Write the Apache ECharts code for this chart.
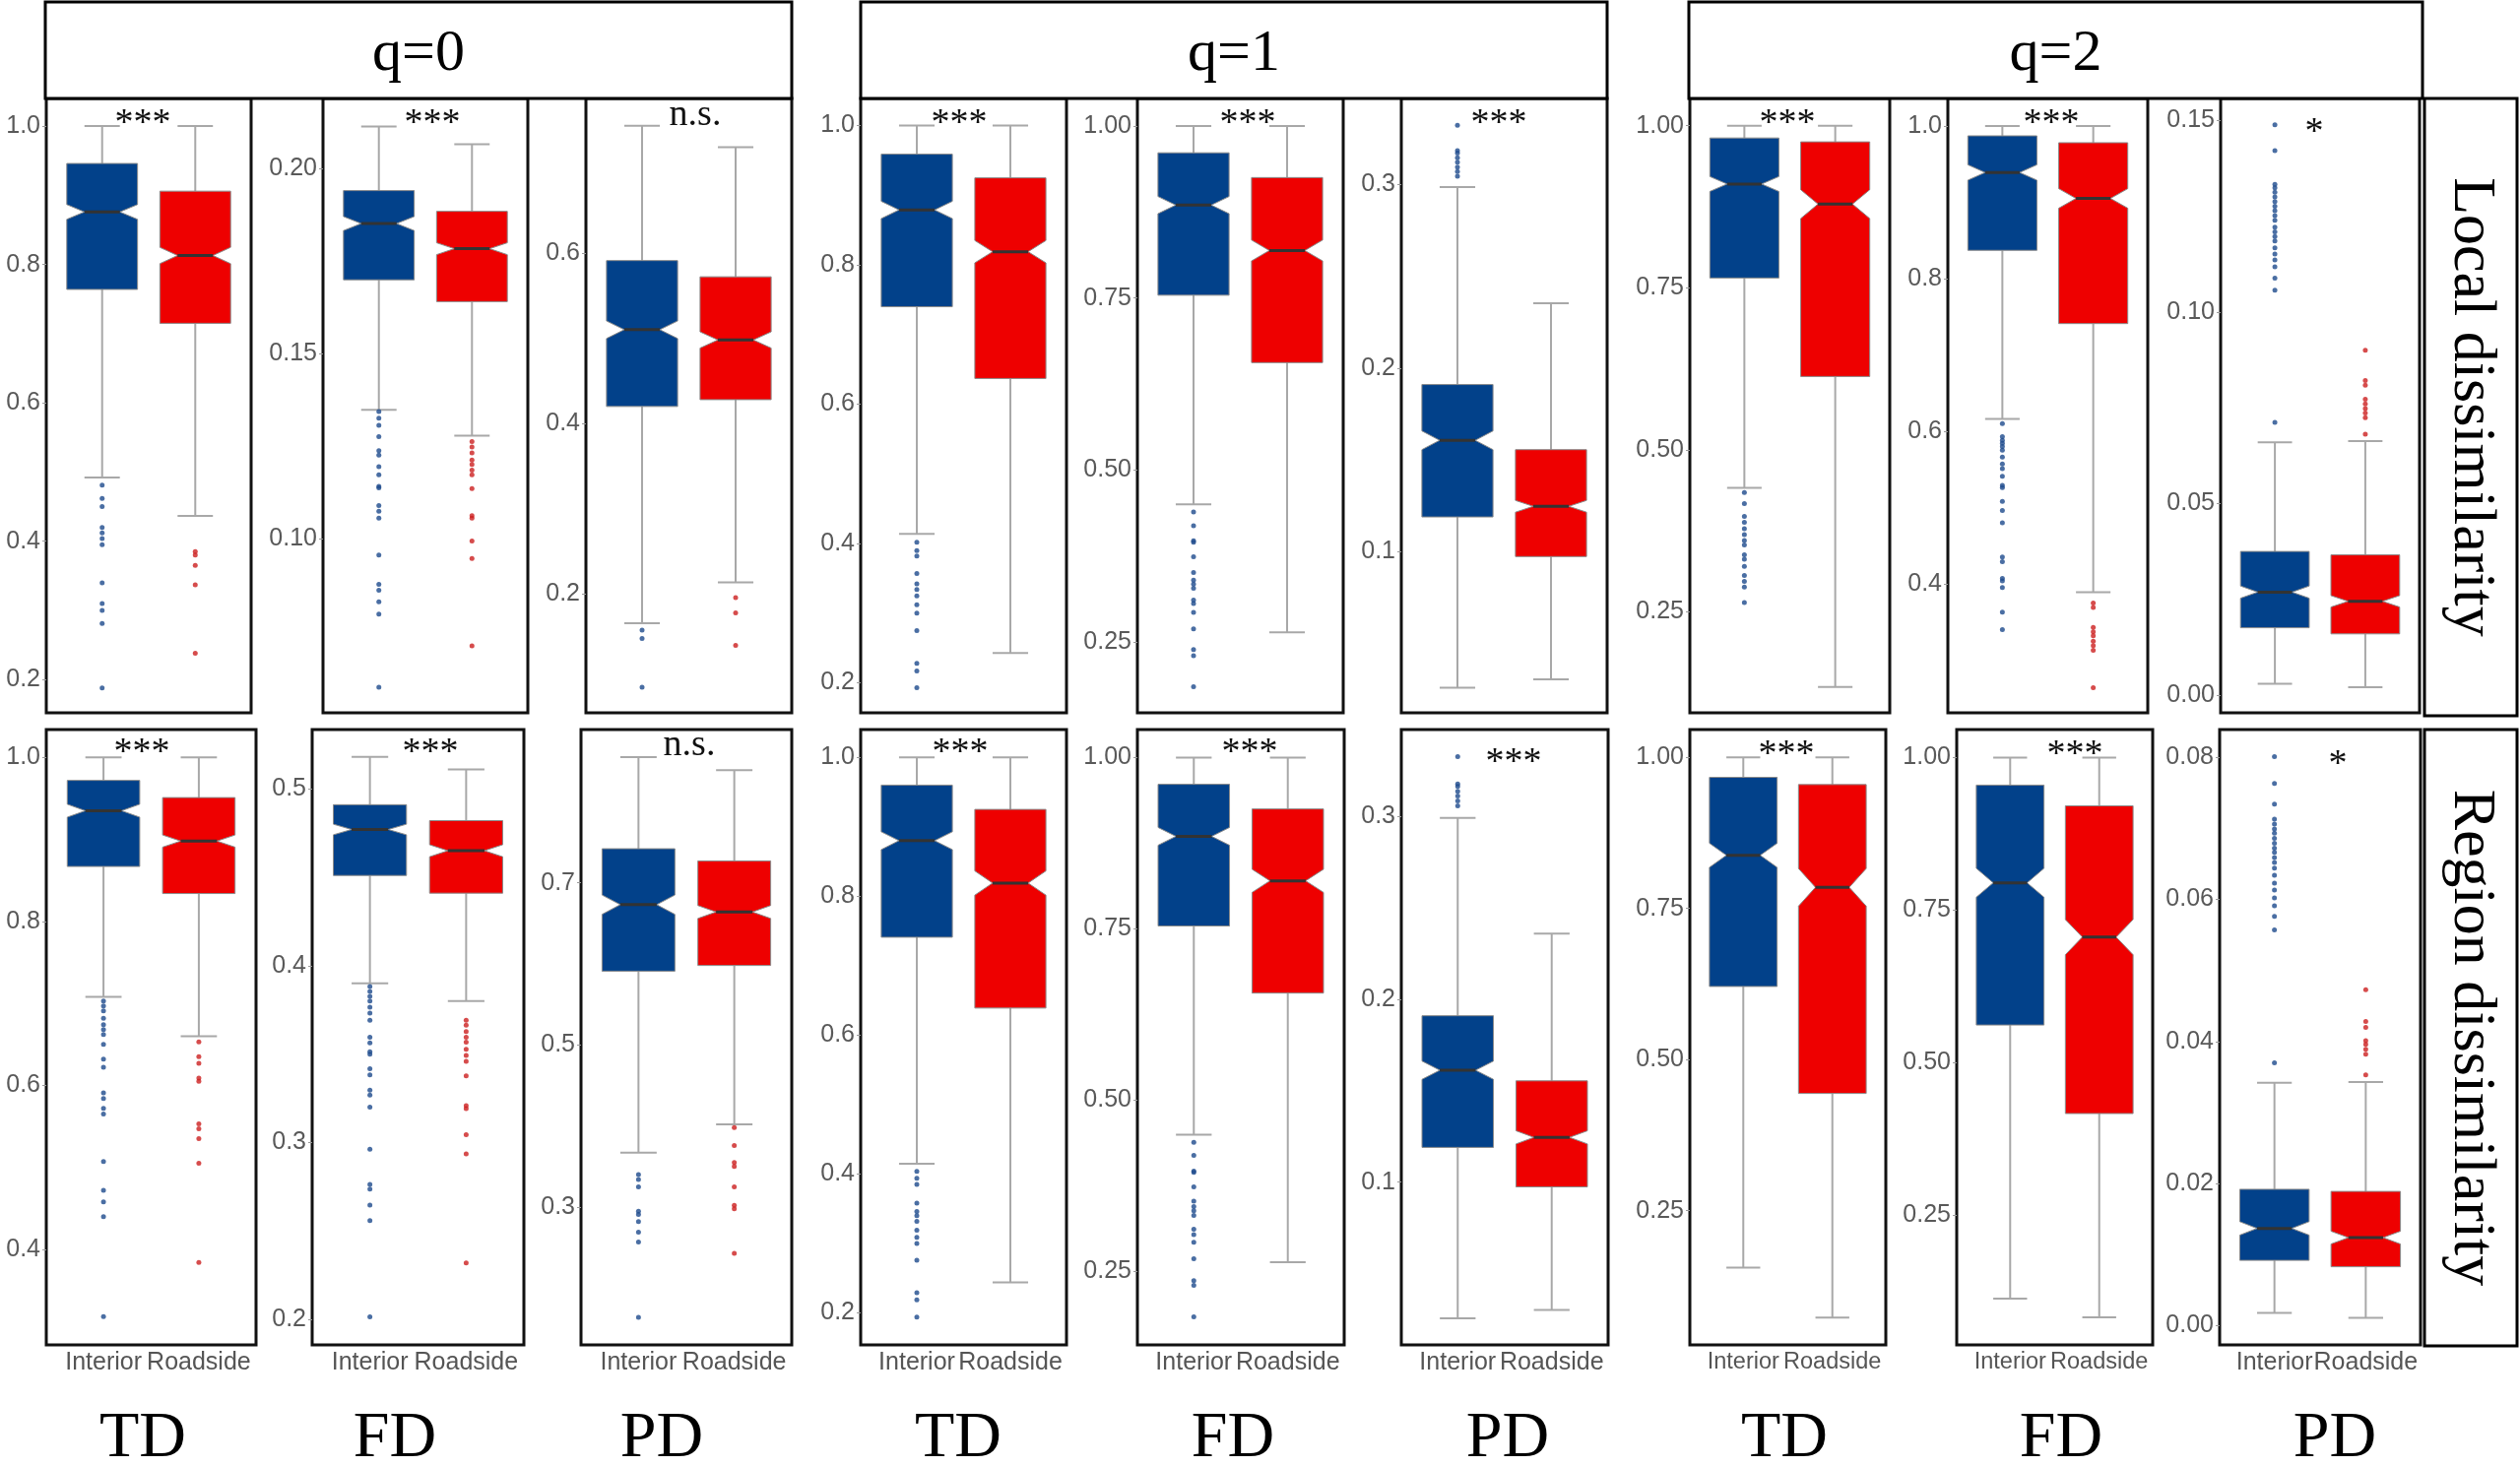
<!DOCTYPE html>
<html>
<head>
<meta charset="utf-8">
<script src="https://cdn.jsdelivr.net/npm/echarts@6.0.0/dist/echarts.min.js"></script>
<style>html,body{margin:0;padding:0;background:#fff}#chart{width:2559px;height:1489px}</style>
</head>
<body>
<div id="chart"></div>
<script>
// panels are ordered row by row: Local (TD,FD,PD for q=0,1,2) then Region
const categories = ['Interior', 'Roadside'];
const qLabels = ['q=0', 'q=1', 'q=2'];
const indexLabels = ['TD', 'FD', 'PD'];
const rowLabels = ['Local dissimilarity', 'Region dissimilarity'];
const sigLabels = ['***', '***', 'n.s.', '***', '***', '***', '***', '***', '*',
                   '***', '***', 'n.s.', '***', '***', '***', '***', '***', '*'];

// [lower whisker, Q1, median, Q3, upper whisker, notch half-width]
const interiorStats = [
  [0.492, 0.764, 0.876, 0.946, 1.0, 0.0107],
  [0.1349, 0.1700, 0.1852, 0.1941, 0.2114, 0.0019],
  [0.166, 0.420, 0.510, 0.591, 0.749, 0.0103],
  [0.414, 0.740, 0.879, 0.959, 1.0, 0.0124],
  [0.450, 0.754, 0.885, 0.961, 1.0, 0.0125],
  [0.0257, 0.1188, 0.1606, 0.1910, 0.2987, 0.0051],
  [0.441, 0.765, 0.910, 0.981, 1.0, 0.0115],
  [0.616, 0.837, 0.939, 0.987, 1.0, 0.0101],
  [0.0030, 0.0176, 0.0269, 0.0375, 0.0660, 0.0016],
  [0.708, 0.867, 0.935, 0.972, 1.0, 0.0079],
  [0.390, 0.451, 0.477, 0.491, 0.518, 0.0030],
  [0.367, 0.591, 0.673, 0.742, 0.855, 0.0119],
  [0.415, 0.741, 0.880, 0.960, 1.0, 0.0128],
  [0.449, 0.754, 0.885, 0.961, 1.0, 0.0130],
  [0.0256, 0.1190, 0.1612, 0.1910, 0.2992, 0.0050],
  [0.156, 0.621, 0.838, 0.967, 1.0, 0.0200],
  [0.114, 0.562, 0.795, 0.955, 1.0, 0.0237],
  [0.0018, 0.0092, 0.0137, 0.0192, 0.0342, 0.00095]
];
const roadsideStats = [
  [0.4365, 0.715, 0.813, 0.906, 1.0, 0.0118],
  [0.1279, 0.1641, 0.1784, 0.1885, 0.2066, 0.0016],
  [0.214, 0.428, 0.498, 0.572, 0.724, 0.0095],
  [0.243, 0.637, 0.819, 0.925, 1.0, 0.0160],
  [0.264, 0.656, 0.819, 0.925, 1.0, 0.0152],
  [0.0303, 0.0972, 0.1246, 0.1555, 0.2354, 0.0032],
  [0.134, 0.613, 0.879, 0.975, 1.0, 0.0222],
  [0.389, 0.741, 0.905, 0.978, 1.0, 0.0128],
  [0.0021, 0.0160, 0.0245, 0.0366, 0.0663, 0.0015],
  [0.660, 0.834, 0.898, 0.951, 1.0, 0.0074],
  [0.380, 0.441, 0.465, 0.482, 0.511, 0.0034],
  [0.402, 0.598, 0.664, 0.727, 0.839, 0.0080],
  [0.244, 0.639, 0.819, 0.925, 1.0, 0.0174],
  [0.263, 0.656, 0.820, 0.925, 1.0, 0.0169],
  [0.0301, 0.0974, 0.1245, 0.1554, 0.2359, 0.0036],
  [0.073, 0.444, 0.785, 0.955, 1.0, 0.0311],
  [0.083, 0.417, 0.706, 0.921, 1.0, 0.0288],
  [0.0011, 0.0083, 0.0124, 0.0189, 0.0343, 0.0009]
];

const interiorOutliers = [
  [0.481, 0.462, 0.450, 0.420, 0.412, 0.404, 0.395, 0.340, 0.310, 0.300, 0.281, 0.188],
  [0.1344, 0.1326, 0.1307, 0.1276, 0.1238, 0.1226, 0.1195, 0.1173, 0.1142, 0.1138, 0.1090, 0.1075, 0.1056, 0.0956, 0.0877, 0.0861, 0.0830, 0.0797, 0.0599],
  [0.158, 0.148, 0.091],
  [0.402, 0.390, 0.382, 0.357, 0.342, 0.334, 0.325, 0.312, 0.300, 0.275, 0.228, 0.217, 0.193],
  [0.439, 0.419, 0.397, 0.395, 0.374, 0.351, 0.340, 0.334, 0.328, 0.311, 0.306, 0.293, 0.269, 0.239, 0.230, 0.185],
  [0.3324, 0.3185, 0.3172, 0.3147, 0.3122, 0.3096, 0.3071, 0.3046],
  [0.434, 0.417, 0.397, 0.388, 0.378, 0.369, 0.360, 0.353, 0.338, 0.331, 0.320, 0.306, 0.297, 0.288, 0.264],
  [0.610, 0.593, 0.588, 0.584, 0.580, 0.575, 0.566, 0.557, 0.551, 0.541, 0.529, 0.526, 0.508, 0.496, 0.480, 0.435, 0.429, 0.407, 0.404, 0.395, 0.363, 0.340],
  [0.1488, 0.1421, 0.1333, 0.1324, 0.1312, 0.1300, 0.1288, 0.1276, 0.1264, 0.1251, 0.1239, 0.1221, 0.1209, 0.1197, 0.1185, 0.1167, 0.1151, 0.1136, 0.1118, 0.1088, 0.1057, 0.0712],
  [0.703, 0.697, 0.691, 0.682, 0.674, 0.668, 0.662, 0.650, 0.632, 0.622, 0.591, 0.584, 0.572, 0.565, 0.507, 0.472, 0.458, 0.440, 0.318],
  [0.3882, 0.3855, 0.3827, 0.3800, 0.3765, 0.3732, 0.3691, 0.3596, 0.3563, 0.3514, 0.3500, 0.3418, 0.3383, 0.3296, 0.3268, 0.3200, 0.2963, 0.2764, 0.2737, 0.2647, 0.2559, 0.2014],
  [0.340, 0.334, 0.325, 0.295, 0.291, 0.282, 0.269, 0.257, 0.164],
  [0.404, 0.394, 0.385, 0.358, 0.346, 0.340, 0.332, 0.319, 0.309, 0.300, 0.276, 0.229, 0.219, 0.194],
  [0.438, 0.419, 0.396, 0.394, 0.373, 0.352, 0.344, 0.338, 0.331, 0.311, 0.303, 0.292, 0.268, 0.236, 0.229, 0.183],
  [0.3327, 0.3177, 0.3164, 0.3137, 0.3111, 0.3084, 0.3058],
  [],
  [],
  [0.0801, 0.0763, 0.0734, 0.0713, 0.0706, 0.0699, 0.0693, 0.0686, 0.0679, 0.0672, 0.0666, 0.0659, 0.0652, 0.0644, 0.0634, 0.0623, 0.0613, 0.0602, 0.0591, 0.0576, 0.0557, 0.0370]
];
const roadsideOutliers = [
  [0.385, 0.380, 0.365, 0.337, 0.238],
  [0.1263, 0.1248, 0.1232, 0.1213, 0.1201, 0.1186, 0.1173, 0.1136, 0.1063, 0.1056, 0.0994, 0.0947, 0.0711],
  [0.196, 0.178, 0.140],
  [], [], [], [],
  [0.375, 0.369, 0.343, 0.337, 0.332, 0.325, 0.319, 0.313, 0.264],
  [0.0900, 0.0821, 0.0809, 0.0772, 0.0760, 0.0748, 0.0736, 0.0724, 0.0681],
  [0.653, 0.635, 0.627, 0.609, 0.605, 0.553, 0.547, 0.535, 0.505, 0.384],
  [0.3691, 0.3664, 0.3628, 0.3596, 0.3568, 0.3527, 0.3492, 0.3459, 0.3377, 0.3208, 0.3192, 0.3045, 0.2936, 0.2319],
  [0.398, 0.376, 0.355, 0.350, 0.325, 0.302, 0.298, 0.243],
  [], [], [], [], [],
  [0.0473, 0.0428, 0.0420, 0.0401, 0.0396, 0.0389, 0.0382, 0.0353]
];

const yRanges = [
  [0.152, 1.040], [0.053, 0.219], [0.061, 0.781], [0.157, 1.039], [0.147, 1.040], [0.012, 0.347],
  [0.094, 1.042], [0.231, 1.036], [-0.0046, 0.1557],
  [0.2835, 1.034], [0.1856, 0.5335], [0.130, 0.889], [0.154, 1.040], [0.142, 1.041], [0.011, 0.3475],
  [0.028, 1.046], [0.038, 1.046], [-0.0027, 0.0839]
];
const yTicks = [
  [0.2, 0.4, 0.6, 0.8, 1.0], [0.10, 0.15, 0.20], [0.2, 0.4, 0.6], [0.2, 0.4, 0.6, 0.8, 1.0],
  [0.25, 0.50, 0.75, 1.00], [0.1, 0.2, 0.3], [0.25, 0.50, 0.75, 1.00], [0.4, 0.6, 0.8, 1.0],
  [0.00, 0.05, 0.10, 0.15],
  [0.4, 0.6, 0.8, 1.0], [0.2, 0.3, 0.4, 0.5], [0.3, 0.5, 0.7], [0.2, 0.4, 0.6, 0.8, 1.0],
  [0.25, 0.50, 0.75, 1.00], [0.1, 0.2, 0.3], [0.25, 0.50, 0.75, 1.00], [0.25, 0.50, 0.75, 1.00],
  [0.00, 0.02, 0.04, 0.06, 0.08]
];
const yDecimals = [1, 2, 1, 1, 2, 1, 2, 1, 2, 1, 1, 1, 1, 2, 1, 2, 2, 2];

// layout (pixels)
const panelCols = [
  [[47, 255], [328, 536], [595, 804], [874, 1083], [1155, 1364], [1423, 1632], [1716, 1919], [1978, 2181], [2255, 2457]],
  [[47, 260], [317, 532], [590, 804], [874, 1083], [1155, 1365], [1423, 1633], [1716, 1915], [1987, 2186], [2254, 2458]]
];
const rowY = [[100, 724], [741, 1366]];
const sigX = [[145, 439, 706, 974, 1267, 1522, 1815, 2083, 2350], [144, 437, 700, 975, 1269, 1537, 1814, 2107, 2374]];
const sigY = [[126, 126, 117, 126, 126, 126, 126, 126, 135], [765, 765, 757, 765, 765, 775, 767, 767, 777]];
const headerX = [[46, 804], [874, 1632], [1715, 2460]];
const bottomLabelX = [145, 401, 672, 973, 1252, 1531, 1812, 2093, 2371];

const boxColors = ['#02418a', '#ee0000'];
const pointColors = ['#1d4a8c', '#cc1f1f'];

const chart = echarts.init(document.getElementById('chart'));

function renderBox(params, api) {
  const x = api.value(0);
  const lo = api.value(1), q1 = api.value(2), med = api.value(3), q3 = api.value(4), hi = api.value(5), nh = api.value(6);
  const half = 0.38, cap = 0.19, inset = 0.19;
  const p = (a, b) => api.coord([a, b]);
  const L = x - half, R = x + half;
  const whisk = { stroke: '#a8a8a8', lineWidth: 2 };
  const seg = (a, b) => ({ type: 'line', shape: { x1: a[0], y1: a[1], x2: b[0], y2: b[1] }, style: whisk });
  const poly = [p(L, q3), p(R, q3), p(R, med + nh), p(R - inset, med), p(R, med - nh), p(R, q1),
                p(L, q1), p(L, med - nh), p(L + inset, med), p(L, med + nh)];
  const m1 = p(L + inset, med), m2 = p(R - inset, med);
  return {
    type: 'group',
    children: [
      seg(p(x, hi), p(x, q3)),
      seg(p(x, q1), p(x, lo)),
      seg(p(x - cap, hi), p(x + cap, hi)),
      seg(p(x - cap, lo), p(x + cap, lo)),
      { type: 'polygon', shape: { points: poly }, style: { fill: boxColors[x - 1], stroke: '#8a8a8a', lineWidth: 1 } },
      { type: 'line', shape: { x1: m1[0], y1: m1[1], x2: m2[0], y2: m2[1] }, style: { stroke: '#333333', lineWidth: 3 } }
    ]
  };
}

const grids = [], xAxes = [], yAxes = [], series = [], graphics = [];
for (let i = 0; i < 18; i++) {
  const row = Math.floor(i / 9), col = i % 9;
  const [x0, x1] = panelCols[row][col];
  const [y0, y1] = rowY[row];
  grids.push({ left: x0, top: y0, width: x1 - x0, height: y1 - y0, show: true, borderColor: '#111', borderWidth: 3,
               backgroundColor: 'transparent', containLabel: false, outerBoundsMode: 'none' });
  xAxes.push({
    type: 'value', gridIndex: i, min: 0.4, max: 2.6,
    axisLine: { show: false }, axisTick: { show: false }, splitLine: { show: false },
    axisLabel: {
      show: row === 1, customValues: [1, 2], hideOverlap: false, showMinLabel: true, showMaxLabel: true, margin: 6,
      formatter: v => categories[Math.round(v) - 1],
      color: '#555', fontSize: (x1 - x0) < 202 ? 23.5 : 25, fontFamily: 'Liberation Sans'
    }
  });
  yAxes.push({
    type: 'value', gridIndex: i, min: yRanges[i][0], max: yRanges[i][1],
    axisLine: { show: false }, splitLine: { show: false },
    axisTick: { show: true, customValues: yTicks[i], length: 4, lineStyle: { color: '#999' } },
    axisLabel: {
      customValues: yTicks[i], margin: 6, showMinLabel: true, showMaxLabel: true,
      formatter: v => Number(v).toFixed(yDecimals[i]),
      color: '#595959', fontSize: 25, fontFamily: 'Liberation Sans'
    }
  });
  series.push({
    type: 'custom', xAxisIndex: i, yAxisIndex: i, renderItem: renderBox, z: 2,
    data: [[1, ...interiorStats[i]], [2, ...roadsideStats[i]]]
  });
  series.push({
    type: 'scatter', xAxisIndex: i, yAxisIndex: i, symbolSize: 5, z: 3,
    itemStyle: { color: pointColors[0] }, data: interiorOutliers[i].map(v => [1, v])
  });
  series.push({
    type: 'scatter', xAxisIndex: i, yAxisIndex: i, symbolSize: 5, z: 3,
    itemStyle: { color: pointColors[1] }, data: roadsideOutliers[i].map(v => [2, v])
  });
  graphics.push({
    type: 'text', x: sigX[row][col], y: sigY[row][col],
    style: { text: sigLabels[i], fill: '#111', font: '38px "Liberation Serif"', align: 'center', verticalAlign: 'middle' }
  });
}

// q headers
qLabels.forEach((q, k) => {
  const [a, b] = headerX[k];
  graphics.push({ type: 'rect', shape: { x: a, y: 2, width: b - a, height: 98 }, style: { fill: '#fff', stroke: '#000', lineWidth: 3 } });
  graphics.push({ type: 'text', x: (a + b) / 2, y: 55,
    style: { text: q, fill: '#000', font: '60px "Liberation Serif"', align: 'center', verticalAlign: 'middle' } });
});
// row strips
rowLabels.forEach((t, r) => {
  const top = r === 0 ? 100 : 741, bot = r === 0 ? 727 : 1367;
  graphics.push({ type: 'rect', shape: { x: 2462, y: top, width: 94, height: bot - top }, style: { fill: '#fff', stroke: '#000', lineWidth: 3 } });
  graphics.push({ type: 'text', x: 2509, y: (top + bot) / 2, rotation: -Math.PI / 2,
    style: { text: t, fill: '#000', font: '62px "Liberation Serif"', align: 'center', verticalAlign: 'middle' } });
});
// index labels under columns
bottomLabelX.forEach((x, c) => {
  graphics.push({ type: 'text', x: x, y: 1462,
    style: { text: indexLabels[c % 3], fill: '#000', font: '66px "Liberation Serif"', align: 'center', verticalAlign: 'middle' } });
});

chart.setOption({
  animation: false,
  backgroundColor: '#fff',
  grid: grids,
  xAxis: xAxes,
  yAxis: yAxes,
  series: series,
  graphic: graphics
});
</script>
</body>
</html>
